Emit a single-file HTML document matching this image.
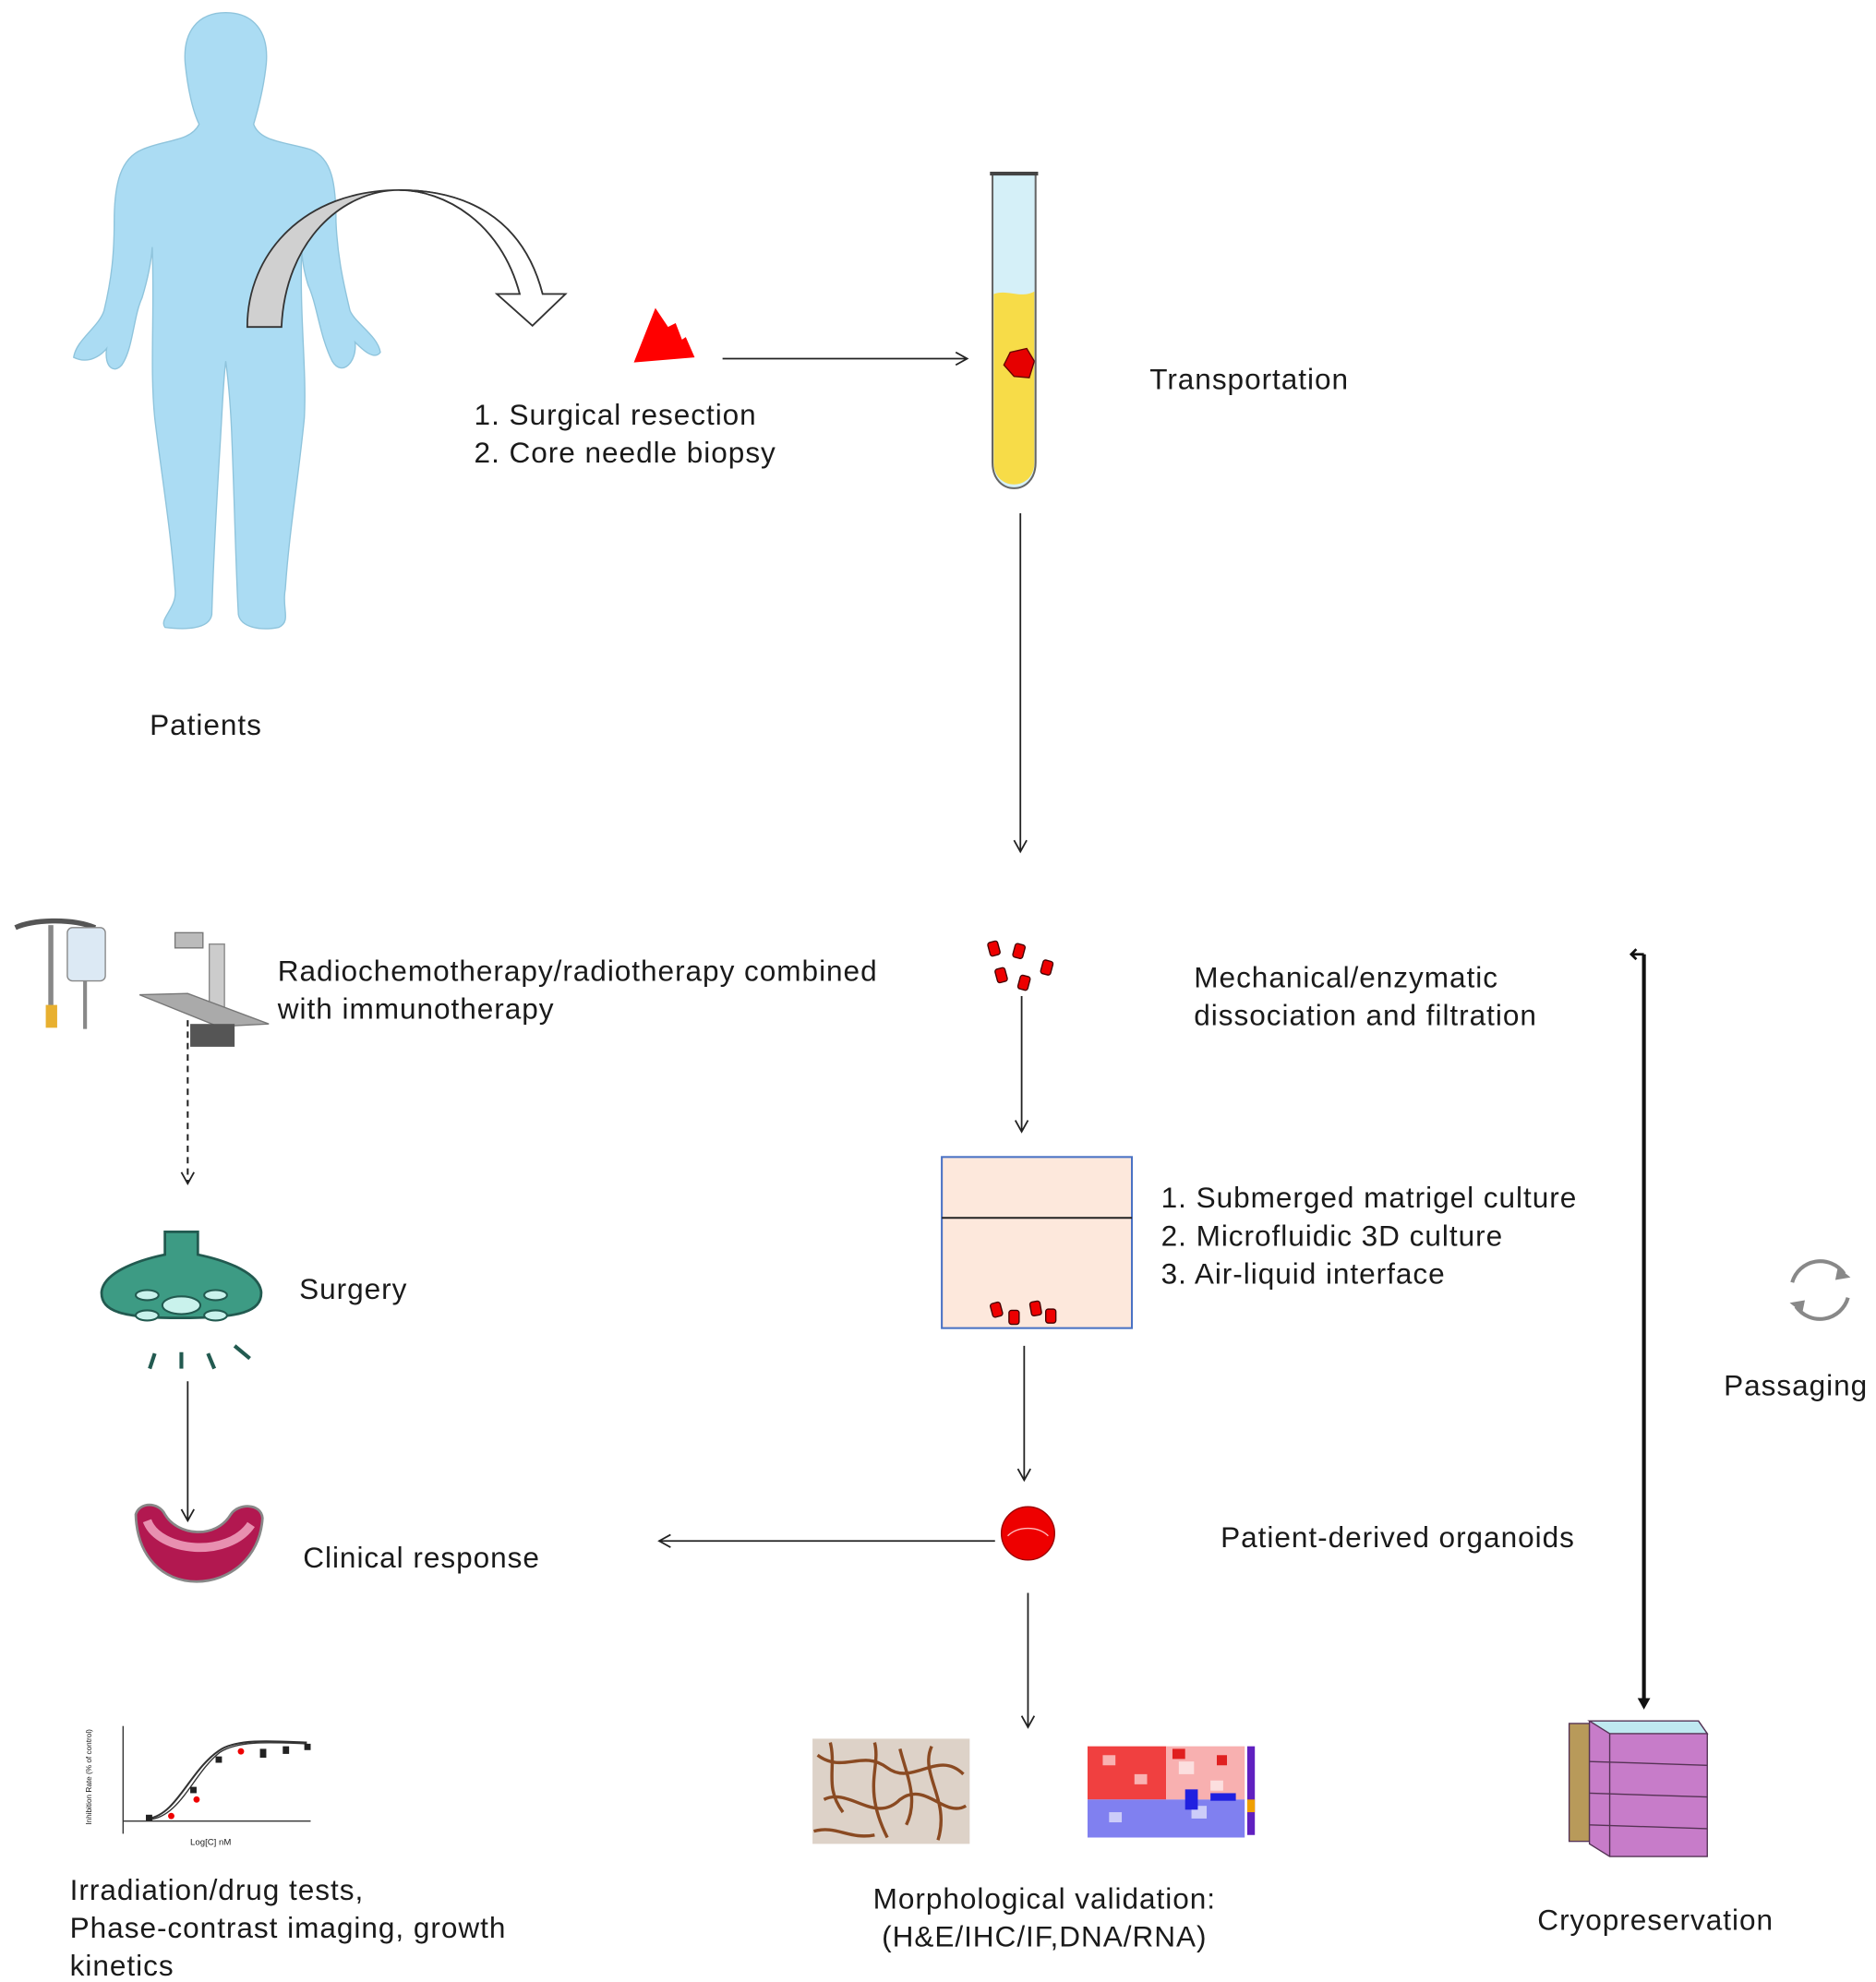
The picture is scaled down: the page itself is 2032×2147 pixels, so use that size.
<!DOCTYPE html>
<html><head><meta charset="utf-8"><style>
html,body{margin:0;padding:0;background:#fff;}
svg{display:block;}
text{font-family:"Liberation Sans",sans-serif;font-size:23px;letter-spacing:0.7px;fill:#1a1a1a;}
text.s{font-size:6px;letter-spacing:0;}
</style></head><body>
<svg width="2032" height="2147" viewBox="0 0 1480 1564" xmlns="http://www.w3.org/2000/svg">
<defs>
<marker id="a" markerWidth="12" markerHeight="12" refX="10" refY="6" orient="auto" markerUnits="userSpaceOnUse">
<path d="M1,1 L10,6 L1,11" fill="none" stroke="#222" stroke-width="1.3"/></marker>
</defs>
<path fill="#abdcf3" stroke="#8fc4dc" stroke-width="1" d="M178,10 C200,10 212,25 210,50 C208,70 203,88 200,98 C205,112 225,112 245,118 C262,125 265,145 265,175 C266,200 270,220 276,245 C280,255 298,265 300,278 C295,285 285,275 280,270 C282,285 270,298 262,285 C252,265 250,240 243,225 C240,215 238,205 238,195 C236,250 242,290 240,330 C235,380 228,420 225,465 C222,480 230,490 220,495 C205,498 190,495 188,485 C186,450 185,400 183,350 C182,320 180,300 178,285 C176,300 175,330 173,360 C170,410 168,450 167,485 C165,497 145,497 130,495 C125,488 140,480 138,465 C135,420 128,380 122,330 C118,290 122,250 120,195 C119,210 115,225 112,235 C105,250 105,275 96,288 C90,295 82,290 84,275 C80,280 70,288 58,282 C60,268 78,258 82,245 C88,220 90,200 90,175 C90,145 95,125 112,118 C130,110 150,112 157,98 C152,88 148,70 146,50 C144,25 156,10 178,10 Z"/>
<path fill="#d0d0d0" stroke="#333" stroke-width="1.3" d="M195,258 C195,200 240,150 315,150 C350,150 395,175 410,232 L392,232 L420,257 L446,232 L428,232 C412,170 365,150 315,150 C270,150 225,190 222,258 Z"/>
<path fill="#fff" stroke="#333" stroke-width="1.3" d="M315,150 C350,150 395,175 410,232 L392,232 L420,257 L446,232 L428,232 C412,170 365,150 315,150 Z"/>
<path fill="#ff0000" d="M500,286 L517,243 L527,258 L533,255 L538,268 L541,266 L548,282 Z"/>
<line x1="570" y1="283" x2="763" y2="283" stroke="#222" stroke-width="1.3" marker-end="url(#a)"/>
<path d="M783,137 L817,137 L817,365 C817,392 783,392 783,365 Z" fill="#d5f0f8"/>
<path d="M784,232 C795,228 805,236 816,230 L816,365 C816,388 784,388 784,365 Z" fill="#f7dc48"/>
<path d="M792,288 L797,278 L810,275 L816,285 L812,298 L800,297 Z" fill="#e60000" stroke="#600" stroke-width="1"/>
<path d="M783,137 L817,137 L817,365 C817,392 783,392 783,365 Z" fill="none" stroke="#666" stroke-width="1.5"/>
<line x1="781" y1="137" x2="819" y2="137" stroke="#444" stroke-width="3"/>
<text x="907" y="307">Transportation</text>
<text x="118" y="580">Patients</text>
<text x="374" y="335">1. Surgical resection</text>
<text x="374" y="365">2. Core needle biopsy</text>
<line x1="805" y1="405" x2="805" y2="672" stroke="#222" stroke-width="1.3" marker-end="url(#a)"/>
<g fill="#e00" stroke="#400" stroke-width="1">
<rect x="780" y="743" width="8" height="11" rx="2" transform="rotate(-15 784 748)"/>
<rect x="800" y="745" width="8" height="11" rx="2" transform="rotate(15 804 750)"/>
<rect x="786" y="764" width="8" height="11" rx="2" transform="rotate(-15 790 770)"/>
<rect x="804" y="770" width="8" height="11" rx="2" transform="rotate(15 808 775)"/>
<rect x="822" y="758" width="8" height="11" rx="2" transform="rotate(15 826 763)"/>
</g>
<text x="942" y="779">Mechanical/enzymatic</text>
<text x="942" y="809">dissociation and filtration</text>
<line x1="806" y1="786" x2="806" y2="893" stroke="#222" stroke-width="1.3" marker-end="url(#a)"/>
<rect x="743" y="913" width="150" height="135" fill="#fde8dc" stroke="#4a72c4" stroke-width="1.5"/>
<line x1="743" y1="961" x2="893" y2="961" stroke="#222" stroke-width="1.5"/>
<g fill="#e00" stroke="#400" stroke-width="1">
<rect x="782" y="1028" width="8" height="11" rx="2" transform="rotate(-15 786 1033)"/>
<rect x="796" y="1034" width="8" height="11" rx="2"/>
<rect x="813" y="1027" width="8" height="11" rx="2" transform="rotate(-10 817 1032)"/>
<rect x="825" y="1033" width="8" height="11" rx="2"/>
</g>
<text x="916" y="953">1. Submerged matrigel culture</text>
<text x="916" y="983">2. Microfluidic 3D culture</text>
<text x="916" y="1013">3. Air-liquid interface</text>
<line x1="808" y1="1062" x2="808" y2="1168" stroke="#222" stroke-width="1.3" marker-end="url(#a)"/>
<circle cx="811" cy="1210" r="21" fill="#ee0000" stroke="#900" stroke-width="1"/>
<path d="M795,1212 C803,1204 819,1204 827,1212" fill="none" stroke="#fbb" stroke-width="1"/>
<line x1="785" y1="1216" x2="520" y2="1216" stroke="#222" stroke-width="1.3" marker-end="url(#a)"/>
<text x="963" y="1221">Patient-derived organoids</text>
<line x1="811" y1="1257" x2="811" y2="1363" stroke="#222" stroke-width="1.3" marker-end="url(#a)"/>
<rect x="641" y="1372" width="124" height="83" fill="#ddd2c8"/>
<g fill="none" stroke="#8a4a22" stroke-width="2.5">
<path d="M645,1385 C665,1400 680,1380 700,1395 C720,1410 740,1380 760,1400"/>
<path d="M650,1420 C670,1410 690,1440 710,1420 C730,1405 745,1435 762,1425"/>
<path d="M690,1375 C695,1395 680,1410 700,1450"/>
<path d="M735,1378 C725,1400 750,1420 740,1452"/>
<path d="M642,1445 C660,1440 670,1452 690,1448"/>
<path d="M655,1375 C660,1395 650,1410 665,1430"/>
<path d="M710,1380 C715,1400 725,1420 715,1440"/>
</g>
<rect x="858" y="1378" width="62" height="42" fill="#f04040"/>
<rect x="920" y="1378" width="62" height="42" fill="#f8b0b0"/>
<rect x="858" y="1420" width="124" height="30" fill="#8080f0"/>
<g fill="#fff" opacity="0.6">
<rect x="870" y="1385" width="10" height="8"/><rect x="895" y="1400" width="10" height="8"/><rect x="930" y="1390" width="12" height="10"/><rect x="955" y="1405" width="10" height="8"/><rect x="875" y="1430" width="10" height="8"/><rect x="940" y="1425" width="12" height="10"/>
</g>
<g fill="#e02020"><rect x="925" y="1380" width="10" height="8"/><rect x="960" y="1385" width="8" height="8"/></g>
<g fill="#2020e0"><rect x="935" y="1412" width="10" height="16"/><rect x="955" y="1415" width="20" height="6"/></g>
<rect x="984" y="1378" width="6" height="70" fill="#6020c0"/>
<rect x="984" y="1420" width="6" height="10" fill="#f0a000"/>
<text x="824" y="1506" text-anchor="middle">Morphological validation:</text>
<text x="824" y="1536" text-anchor="middle">(H&amp;E/IHC/IF,DNA/RNA)</text>
<line x1="1297" y1="753" x2="1297" y2="1342" stroke="#111" stroke-width="3"/>
<path d="M1292,1340 L1297,1349 L1302,1340 Z" fill="#111"/>
<path d="M1297,753 L1288,753 M1291,749 L1287,753 L1291,757" fill="none" stroke="#111" stroke-width="2"/>
<g fill="none" stroke="#888" stroke-width="3">
<path d="M1414,1012 A23,23 0 0 1 1455,1005"/>
<path d="M1458,1024 A23,23 0 0 1 1417,1031"/>
</g>
<path d="M1450,1000 L1460,1008 L1448,1010 Z M1422,1036 L1412,1028 L1424,1026 Z" fill="#888"/>
<text x="1360" y="1101">Passaging</text>
<g stroke="#553355" stroke-width="1">
<rect x="1238" y="1360" width="16" height="93" fill="#b89a5a"/>
<path d="M1254,1358 L1340,1358 L1347,1368 L1347,1465 L1270,1465 L1254,1455 Z" fill="#c77cc9"/>
<path d="M1254,1358 L1340,1358 L1347,1368 L1270,1368 Z" fill="#bfe8f0"/>
<line x1="1270" y1="1368" x2="1270" y2="1465"/>
<line x1="1254" y1="1390" x2="1347" y2="1393"/>
<line x1="1254" y1="1415" x2="1347" y2="1418"/>
<line x1="1254" y1="1440" x2="1347" y2="1443"/>
</g>
<text x="1213" y="1523">Cryopreservation</text>
<path d="M12,732 C25,726 55,724 75,732" fill="none" stroke="#555" stroke-width="4"/>
<line x1="40" y1="730" x2="40" y2="808" stroke="#888" stroke-width="4"/>
<rect x="36" y="793" width="9" height="18" fill="#e8b030"/>
<rect x="53" y="732" width="30" height="42" rx="4" fill="#dce9f4" stroke="#888"/>
<line x1="67" y1="774" x2="67" y2="812" stroke="#888" stroke-width="3"/>
<rect x="138" y="736" width="22" height="12" fill="#bbb" stroke="#777"/>
<rect x="165" y="745" width="12" height="55" fill="#ccc" stroke="#888"/>
<path d="M110,785 L148,784 L212,808 L172,810 Z" fill="#aaa" stroke="#777"/>
<rect x="150" y="808" width="35" height="18" fill="#555"/>
<text x="219" y="774">Radiochemotherapy/radiotherapy combined</text>
<text x="219" y="804">with immunotherapy</text>
<line x1="148" y1="805" x2="148" y2="934" stroke="#222" stroke-width="1.5" stroke-dasharray="5,4" marker-end="url(#a)"/>
<path d="M130,972 L156,972 L156,990 C180,995 205,1005 206,1020 C206,1035 190,1040 143,1040 C96,1040 80,1035 80,1020 C81,1005 106,995 130,990 Z" fill="#3d9b84" stroke="#225a50" stroke-width="2"/>
<g fill="#c9f2ec" stroke="#225a50" stroke-width="1.5">
<ellipse cx="143" cy="1030" rx="15" ry="7"/><ellipse cx="116" cy="1022" rx="9" ry="4"/><ellipse cx="170" cy="1022" rx="9" ry="4"/><ellipse cx="116" cy="1038" rx="9" ry="4"/><ellipse cx="170" cy="1038" rx="9" ry="4"/>
</g>
<g stroke="#225a50" stroke-width="3"><line x1="122" y1="1068" x2="118" y2="1080"/><line x1="143" y1="1067" x2="143" y2="1080"/><line x1="164" y1="1068" x2="169" y2="1080"/><line x1="185" y1="1062" x2="197" y2="1072"/></g>
<text x="236" y="1025">Surgery</text>
<line x1="148" y1="1090" x2="148" y2="1200" stroke="#222" stroke-width="1.3" marker-end="url(#a)"/>
<path d="M107,1195 C110,1185 125,1185 130,1195 C140,1212 170,1215 182,1195 C188,1186 206,1186 207,1198 C205,1230 180,1248 155,1248 C128,1248 108,1228 107,1195 Z" fill="#b21850" stroke="#888" stroke-width="2"/>
<path d="M116,1200 C125,1225 180,1230 198,1203" fill="none" stroke="#e890b0" stroke-width="7"/>
<text x="239" y="1237">Clinical response</text>
<g stroke="#333" stroke-width="1" fill="none">
<line x1="97" y1="1362" x2="97" y2="1447"/><line x1="97" y1="1437" x2="245" y2="1437"/>
<path d="M117,1435 C140,1432 150,1395 175,1380 C190,1372 215,1374 242,1375" stroke-width="1.5"/>
<path d="M117,1436 C142,1434 152,1400 173,1383 C188,1373 215,1375 242,1376"/>
</g>
<g fill="#222"><rect x="115" y="1432" width="5" height="5"/><rect x="150" y="1410" width="5" height="5"/><rect x="170" y="1386" width="5" height="5"/><rect x="205" y="1380" width="5" height="7"/><rect x="223" y="1378" width="5" height="6"/><rect x="240" y="1376" width="5" height="5"/></g>
<g fill="#e00"><circle cx="135" cy="1433" r="2.5"/><circle cx="155" cy="1420" r="2.5"/><circle cx="190" cy="1382" r="2.5"/></g>
<text class="s" x="72" y="1440" transform="rotate(-90 72 1440)">Inhibition Rate (% of control)</text>
<text class="s" x="150" y="1456" style="font-size:7px">Log[C] nM</text>
<text x="55" y="1499">Irradiation/drug tests,</text>
<text x="55" y="1529">Phase-contrast imaging, growth</text>
<text x="55" y="1559">kinetics</text>
</svg>
</body></html>
